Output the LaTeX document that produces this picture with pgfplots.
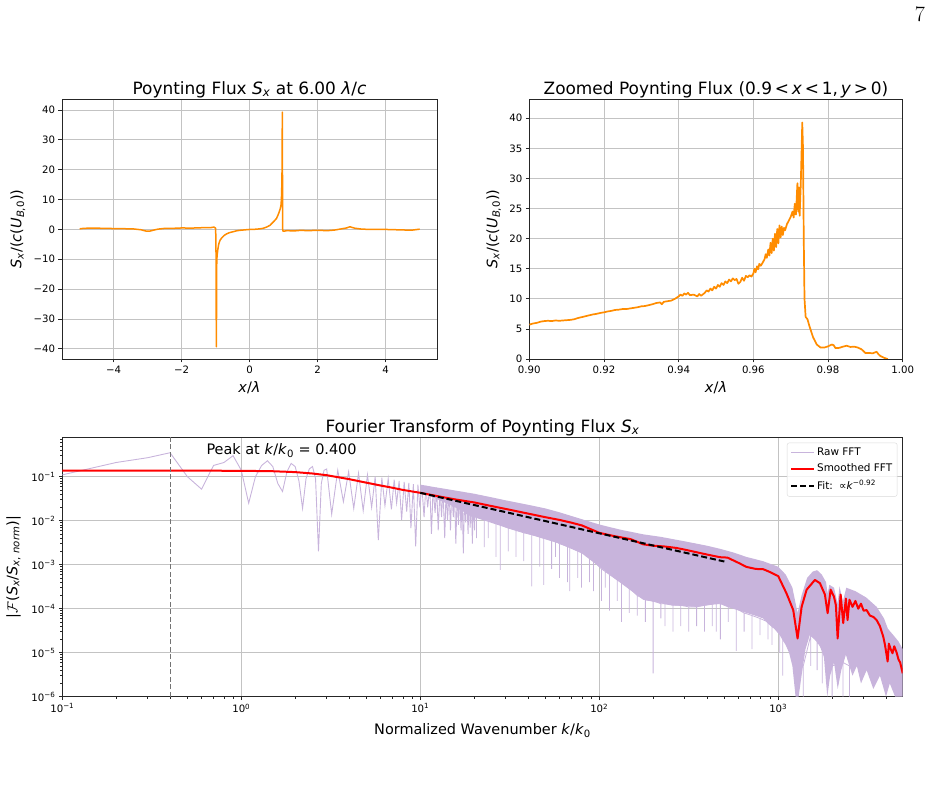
\documentclass[border=0pt]{standalone}
\usepackage{pgfplots}
\pgfplotsset{compat=1.18}
\usepackage{fontspec}
\setmainfont{DejaVu Sans}
\newfontfamily\lmr{Latin Modern Roman}
\definecolor{orangec}{RGB}{255,140,0}
\definecolor{rawc}{RGB}{200,180,220}
\definecolor{gridc}{RGB}{195,195,195}
\pgfplotsset{
 every axis/.append style={
   scale only axis,
   axis line style={black!85, line width=0.8bp},
   grid=major,
   major grid style={gridc, line width=0.8bp},
   tick align=outside,
   tick pos=left,
   major tick length=3.5bp,
   minor tick length=2bp,
   every tick/.style={black!85, line width=0.8bp},
   tick label style={font=\fontsize{10.2}{12}\selectfont},
   title style={font=\fontsize{17}{20}\selectfont, at={(axis description cs:0.5,1)}, anchor=base, yshift=-1bp},
   label style={font=\fontsize{14.5}{17}\selectfont},
   xlabel style={at={(axis description cs:0.5,0)}, anchor=base, yshift=-34bp},
 }
}
\begin{document}
\begin{tikzpicture}
\useasboundingbox (0,0) rectangle (933bp,788bp);
\node[anchor=base, font=\lmr\fontsize{22}{24}\selectfont] at (920bp,766bp) {7};

% ---------------- top left ----------------
\begin{axis}[at={(62bp,429bp)}, anchor=south west, width=375bp, height=260bp,
  xmin=-5.52, xmax=5.51, ymin=-43.4, ymax=43.7,
  xtick={-4,-2,0,2,4}, xticklabels={−4,−2,0,2,4},
  ytick={-40,-30,-20,-10,0,10,20,30,40}, yticklabels={−40,−30,−20,−10,0,10,20,30,40},
  title={Poynting Flux \textit{S}\textsubscript{\textit{x}} at 6.00 \textit{λ}/\textit{c}},
  xlabel={\textit{x}/\textit{λ}},
  ylabel={\textit{S}\textsubscript{\textit{x}}/(\textit{c}(\textit{U}\textsubscript{\textit{B},0}))},
  ylabel style={at={(axis description cs:-0.108,0.5)}, anchor=base},
]
\addplot[orangec, line width=1.5bp, line join=round] coordinates {
(-5.0,0.2) (-4.9,0.35) (-4.8,0.4) (-4.6,0.45) (-4.4,0.4) (-4.2,0.35) (-4.0,0.3) (-3.7,0.25) (-3.4,0.15) (-3.2,-0.1) (-3.05,-0.55) (-2.95,-0.6) (-2.85,-0.3) (-2.7,0.1) (-2.5,0.35) (-2.2,0.4) (-2.0,0.5) (-1.7,0.45) (-1.5,0.55) (-1.3,0.6) (-1.15,0.6) (-1.05,0.8) (-1.0,0.4) (-0.99,-8) (-0.985,-25) (-0.98,-39.3) (-0.975,-28) (-0.97,-12) (-0.96,-9) (-0.94,-7) (-0.92,-5.5) (-0.9,-4.5) (-0.87,-3.6) (-0.82,-2.8) (-0.75,-2.0) (-0.68,-1.5) (-0.6,-1.1) (-0.5,-0.8) (-0.4,-0.5) (-0.3,-0.3) (-0.15,-0.15) (0,0) (0.15,0.05) (0.3,0.2) (0.4,0.4) (0.5,0.8) (0.6,1.4) (0.65,2.0) (0.72,2.8) (0.79,3.7) (0.84,5) (0.87,5.9) (0.9,7) (0.92,8) (0.93,9.5) (0.94,12) (0.95,18) (0.955,25) (0.96,39.3) (0.965,20) (0.97,0.5) (0.975,-0.5) (1.0,-0.6) (1.1,-0.4) (1.3,-0.5) (1.5,-0.3) (1.7,-0.4) (2.0,-0.3) (2.3,-0.4) (2.5,-0.2) (2.7,0.2) (2.85,0.5) (2.95,0.9) (3.0,0.7) (3.1,0.4) (3.3,0.1) (3.6,0.0) (4.0,0.0) (4.3,-0.1) (4.6,-0.2) (4.8,-0.2) (5.0,0.1)
};
\end{axis}

% ---------------- top right ----------------
\begin{axis}[at={(529.3bp,429bp)}, anchor=south west, width=373.4bp, height=260bp,
  xmin=0.9, xmax=1.0, ymin=0, ymax=43.2,
  xtick={0.90,0.92,0.94,0.96,0.98,1.00}, xticklabels={0.90,0.92,0.94,0.96,0.98,1.00},
  ytick={0,5,10,15,20,25,30,35,40}, yticklabels={0,5,10,15,20,25,30,35,40},
  title={Zoomed Poynting Flux (0.9\,<\,\textit{x}\,<\,1,\,\textit{y}\,>\,0)},
  xlabel={\textit{x}/\textit{λ}},
  ylabel={\textit{S}\textsubscript{\textit{x}}/(\textit{c}(\textit{U}\textsubscript{\textit{B},0}))},
  ylabel style={at={(axis description cs:-0.0857,0.5)}, anchor=base},
]
\addplot[orangec, line width=1.7bp, line join=round] coordinates {
(0.9000,5.7) (0.9010,5.9) (0.9020,6.0) (0.9030,6.2) (0.9040,6.3) (0.9050,6.35) (0.9060,6.3) (0.9070,6.4) (0.9080,6.35) (0.9090,6.4) (0.9100,6.45) (0.9110,6.5) (0.9120,6.6) (0.9130,6.8) (0.9140,6.95) (0.9150,7.1) (0.9160,7.25) (0.9170,7.4) (0.9180,7.5) (0.9190,7.65) (0.9200,7.75) (0.9210,7.9) (0.9220,8.0) (0.9230,8.15) (0.9240,8.2) (0.9250,8.3) (0.9260,8.3) (0.9270,8.4) (0.9280,8.5) (0.9290,8.6) (0.9300,8.75) (0.9310,8.8) (0.9320,8.95) (0.9330,9.1) (0.9340,9.3) (0.9350,9.4) (0.9355,9.1) (0.9360,9.5) (0.9370,9.6) (0.9380,9.7) (0.9390,10.0) (0.9400,10.4) (0.9405,10.7) (0.9410,10.5) (0.9415,10.9) (0.9420,10.7) (0.9425,11.0) (0.9430,10.6) (0.9440,10.7) (0.9450,10.4) (0.9455,10.8) (0.9460,10.5) (0.9470,11.0) (0.9475,11.4) (0.9480,11.2) (0.9485,11.7) (0.9490,11.4) (0.9495,12.0) (0.9500,11.7) (0.9505,12.3) (0.9510,12.0) (0.9515,12.6) (0.9520,12.3) (0.9525,12.9) (0.9530,12.6) (0.9535,13.2) (0.9540,12.9) (0.9545,13.4) (0.9550,13.1) (0.9555,13.3) (0.9560,12.5) (0.9565,12.8) (0.9570,13.5) (0.9575,13.0) (0.9580,13.8) (0.9585,13.6) (0.9590,13.9) (0.9595,13.7) (0.9600,14.2) (0.9603,15.0) (0.9606,14.4) (0.9610,15.4) (0.9613,14.9) (0.9616,15.8) (0.9620,15.5) (0.9625,16.0) (0.9630,16.6) (0.9633,17.4) (0.9636,16.8) (0.9640,18.2) (0.9643,17.2) (0.9646,19.3) (0.9649,17.6) (0.9652,20.0) (0.9655,18.0) (0.9658,20.8) (0.9661,18.6) (0.9664,21.6) (0.9667,19.2) (0.9670,22.2) (0.9673,20.2) (0.9676,22.0) (0.9679,20.6) (0.9682,21.8) (0.9685,21.4) (0.9690,22.4) (0.9695,23.0) (0.9700,23.6) (0.9705,24.5) (0.9708,23.5) (0.9711,25.8) (0.9714,24.0) (0.9716,26.5) (0.9718,29.2) (0.9720,24.5) (0.9722,28.5) (0.9724,23.8) (0.9727,29.0) (0.9729,34.0) (0.9731,39.3) (0.9733,35.0) (0.9735,20.0) (0.9737,10.0) (0.9740,7.0) (0.9745,6.6) (0.9750,5.5) (0.9760,3.6) (0.9770,2.4) (0.9780,1.9) (0.9790,1.9) (0.9800,2.1) (0.9810,2.4) (0.9815,2.3) (0.9820,1.8) (0.9830,1.85) (0.9840,2.05) (0.9850,2.2) (0.9860,2.0) (0.9870,2.05) (0.9880,1.9) (0.9890,1.6) (0.9900,1.0) (0.9910,1.0) (0.9920,0.95) (0.9930,1.2) (0.9935,0.8) (0.9940,0.5) (0.9950,0.2) (0.9960,0.0)
};
\end{axis}

% ---------------- bottom ----------------
\begin{axis}[at={(62.3bp,91.3bp)}, anchor=south west, width=840.4bp, height=259.4bp,
  xmode=log, ymode=log,
  xmin=0.1, xmax=4960, ymin=1e-6, ymax=0.785,
  xtick={0.1,1,10,100,1000},
  xticklabels={10\textsuperscript{−1},10\textsuperscript{0},10\textsuperscript{1},10\textsuperscript{2},10\textsuperscript{3}},
  minor xtick={0.2,0.3,0.4,0.5,0.6,0.7,0.8,0.9,2,3,4,5,6,7,8,9,20,30,40,50,60,70,80,90,200,300,400,500,600,700,800,900,2000,3000,4000},
  ytick={1e-6,1e-5,1e-4,1e-3,1e-2,1e-1},
  yticklabels={10\textsuperscript{−6},10\textsuperscript{−5},10\textsuperscript{−4},10\textsuperscript{−3},10\textsuperscript{−2},10\textsuperscript{−1}},
  minor ytick={2e-6,3e-6,4e-6,5e-6,6e-6,7e-6,8e-6,9e-6,2e-5,3e-5,4e-5,5e-5,6e-5,7e-5,8e-5,9e-5,2e-4,3e-4,4e-4,5e-4,6e-4,7e-4,8e-4,9e-4,2e-3,3e-3,4e-3,5e-3,6e-3,7e-3,8e-3,9e-3,2e-2,3e-2,4e-2,5e-2,6e-2,7e-2,8e-2,9e-2,0.2,0.3,0.4,0.5,0.6,0.7},
  title={Fourier Transform of Poynting Flux \textit{S}\textsubscript{\textit{x}}},
  xlabel={Normalized Wavenumber \textit{k}/\textit{k}\textsubscript{0}},
  xlabel style={yshift=-4bp},
  ylabel={|\ensuremath{\mathcal{F}}(\textit{S}\textsubscript{\textit{x}}/\textit{S}\textsubscript{\textit{x}, \textit{norm}})|},
  ylabel style={at={(axis description cs:-0.0535,0.5)}, anchor=base},
  legend style={at={(axis description cs:0.9936,0.979)}, anchor=north east, draw=black!15, rounded corners=2bp, fill=white, fill opacity=0.8, text opacity=1, font=\fontsize{10.5}{12.5}\selectfont, cells={anchor=west}, row sep=3bp, inner sep=3bp},
  legend image code/.code={\draw[#1] (0bp,0bp) -- (23bp,0bp);},
]
\addlegendimage{rawc, line width=1bp}
\addlegendentry{Raw FFT}
% raw FFT: dense band
\addplot[draw=none, fill=rawc, forget plot] coordinates {
(10,0.066) (12,0.058) (15,0.05) (20,0.041) (25,0.034) (30,0.029) (40,0.023) (50,0.019) (60,0.0155) (80,0.0108) (100,0.0082) (130,0.0063) (176,0.0049) (220,0.0043) (300,0.0034) (400,0.0027) (472,0.0023) (560,0.0019) (665,0.0015) (824,0.0012) (900,0.00105) (1000,0.0009) (1100,0.0006) (1200,0.0003) (1283,0.00008) (1350,0.0002) (1450,0.0005) (1560,0.0007) (1650,0.00075) (1750,0.0006) (1850,0.0004) (1888,0.00022) (1930,0.00035) (2050,0.0003) (2148,0.00013) (2200,0.00032) (2300,0.00015) (2400,0.0003) (2700,0.00025) (3100,0.00018) (3550,0.00011) (3900,0.00006) (4100,0.000035) (4400,0.000025) (4700,0.000018) (4960,0.000012)
(4960,1e-6) (4500,1e-6) (4200,2e-6) (4000,1e-6) (3700,3e-6) (3400,1.5e-6) (3118,4e-6) (2900,2e-6) (2750,5e-6) (2600,3e-6) (2388,9e-6) (2250,4e-6) (2150,1.5e-6) (2050,6e-6) (1950,3e-6) (1880,1e-6) (1800,8e-6) (1700,1.5e-5) (1600,2e-5) (1500,2.5e-5) (1420,1.2e-5) (1350,3e-6) (1300,1e-6) (1250,1e-6) (1200,5e-6) (1150,1e-5) (1100,1.5e-5) (1020,2.5e-5) (950,3.5e-5) (880,4.5e-5) (824,6e-5) (740,7e-5) (665,8e-5) (560,1e-4) (472,1.3e-4) (350,1.1e-4) (250,1.2e-4) (176,1.6e-4) (130,4e-4) (100,9e-4) (80,1.8e-3) (60,3e-3) (40,5e-3) (30,7e-3) (20,0.012) (15,0.022) (10,0.045)
};
% raw FFT: resolved oscillations
\addplot[rawc, line width=0.9bp, forget plot] coordinates {
(0.1,0.11) (0.2,0.21) (0.3,0.27) (0.4,0.35) (0.5,0.10) (0.6,0.052) (0.7,0.18) (0.8,0.21) (0.9,0.30) (1.0,0.14) (1.1,0.025) (1.2,0.10) (1.3,0.18) (1.4,0.23) (1.5,0.17) (1.6,0.07) (1.7,0.046) (1.8,0.13) (1.9,0.20) (2.0,0.17) (2.1,0.08) (2.2,0.019) (2.3,0.09) (2.4,0.15) (2.5,0.17) (2.6,0.09) (2.7,0.002) (2.8,0.07) (2.9,0.14) (3.0,0.15) (3.2,0.014) (3.46,0.14) (3.72,0.027) (3.98,0.13) (4.25,0.019) (4.52,0.12) (4.8,0.017) (5.07,0.11) (5.35,0.02) (5.6,0.10) (5.83,0.0036) (6.1,0.095) (6.35,0.022) (6.62,0.09) (6.9,0.018) (7.15,0.085) (7.38,0.025) (7.62,0.08) (7.87,0.0104) (8.13,0.076) (8.4,0.016) (8.63,0.072) (8.87,0.0068) (9.15,0.068) (9.43,0.0026) (9.7,0.066) (9.95,0.02) (10.2,0.064) (10.5,0.012) (10.75,0.062) (11.0,0.02) (11.3,0.06) (11.55,0.005) (11.8,0.058) (12.1,0.015) (12.35,0.056) (12.6,0.006) (12.9,0.054) (13.15,0.012) (13.4,0.052) (13.7,0.004) (13.95,0.051) (14.2,0.01) (14.5,0.049) (14.75,0.006) (15.0,0.048) (15.3,0.012) (15.55,0.047) (15.8,0.003) (16.1,0.045) (16.35,0.008) (16.6,0.044) (16.9,0.006) (17.15,0.043) (17.4,0.0018) (17.7,0.042) (17.95,0.009) (18.2,0.041) (18.5,0.005) (18.75,0.04) (19.0,0.007) (19.3,0.039) (19.55,0.003) (19.8,0.038) (20.1,0.006) (20.35,0.037)
};
% raw FFT: deep spikes below the band
\addplot[rawc, line width=0.8bp, forget plot] coordinates {
(20.6,0.012) (20.6,0.004) (20.6,0.012) (22.8,0.011) (22.8,0.0025) (22.8,0.011) (24.0,0.0105) (24.0,0.004) (24.0,0.0105) (26.5,0.009) (26.5,0.0015) (26.5,0.009) (28.0,0.008) (28.0,0.00076) (28.0,0.008) (31.0,0.0068) (31.0,0.002) (31.0,0.0068) (34.3,0.006) (34.3,0.0015) (34.3,0.006) (37.9,0.0053) (37.9,0.0012) (37.9,0.0053) (42.0,0.0048) (42.0,0.00032) (42.0,0.0048) (46.5,0.0043) (46.5,0.0009) (46.5,0.0043) (49.0,0.004) (49.0,0.00035) (49.0,0.004) (54.2,0.0036) (54.2,0.0008) (54.2,0.0036) (57.0,0.0034) (57.0,0.0015) (57.0,0.0034) (60.0,0.003) (60.0,0.0005) (60.0,0.003) (66.4,0.0026) (66.4,0.0004) (66.4,0.0026) (68.5,0.0025) (68.5,0.00025) (68.5,0.0025) (75.8,0.0021) (75.8,0.0005) (75.8,0.0021) (79.7,0.0019) (79.7,0.0003) (79.7,0.0019) (88.3,0.0015) (88.3,0.0004) (88.3,0.0015) (92.9,0.0012) (92.9,0.00025) (92.9,0.0012) (103,0.0008) (103,0.00015) (103,0.0008) (108,0.0007) (108,0.0003) (108,0.0007) (114,0.0006) (114,0.00009) (114,0.0006) (126,0.00045) (126,0.00015) (126,0.00045) (133,0.0004) (133,0.00005) (133,0.0004) (147,0.0003) (147,0.00008) (147,0.0003) (163,0.0002) (163,0.00007) (163,0.0002) (181,0.00016) (181,0.00005) (181,0.00016) (200,0.00015) (200,0.0000034) (200,0.00015) (221,0.00013) (221,0.00006) (221,0.00013) (233,0.00013) (233,0.00004) (233,0.00013) (258,0.00012) (258,0.00003) (258,0.00012) (285,0.00012) (285,0.00004) (285,0.00012) (316,0.00011) (316,0.00003) (316,0.00011) (350,0.00011) (350,0.00004) (350,0.00011) (387,0.00012) (387,0.00003) (387,0.00012) (428,0.00013) (428,0.00004) (428,0.00013) (451,0.00013) (451,0.00003) (451,0.00013) (475,0.00013) (475,0.00002) (475,0.00013) (526,0.00011) (526,0.00005) (526,0.00011) (582,0.0001) (582,0.000011) (582,0.0001) (645,0.00008) (645,0.00003) (645,0.00008) (714,0.00007) (714,0.000012) (714,0.00007) (791,0.00006) (791,0.000025) (791,0.00006) (876,0.00005) (876,0.00002) (876,0.00005) (922,0.00004) (922,0.000015) (922,0.00004) (1020,0.00003) (1020,0.00001) (1020,0.00003) (1060,0.00002) (1060,0.000003) (1060,0.00002) (1380,0.000005) (1380,0.000001) (1380,0.000005) (1520,0.000025) (1520,0.000005) (1520,0.000025) (1650,0.000018) (1650,0.000004) (1650,0.000018) (1760,0.000012) (1760,0.000002) (1760,0.000012) (2000,0.000005) (2000,0.000001) (2000,0.000005) (2300,0.000006) (2300,0.000001) (2300,0.000006) (2500,0.000005) (2500,0.000001) (2500,0.000005)
};
% smoothed FFT
\addplot[red, line width=2bp, line join=round] coordinates {
(0.1,0.137) (0.5,0.137) (1.0,0.136) (1.5,0.133) (2.0,0.127) (2.5,0.118) (3.0,0.108) (4.0,0.088) (5.0,0.073) (6.0,0.063) (7.0,0.056) (8.0,0.050) (10,0.043) (13,0.035) (16,0.030) (20,0.026) (25,0.0215) (30,0.0185) (40,0.0145) (50,0.0120) (60,0.0104) (70,0.0090) (80,0.0078) (100,0.0053) (120,0.0045) (150,0.0038) (176,0.0029) (200,0.0027) (230,0.0026) (270,0.0024) (300,0.0022) (400,0.0017) (472,0.00148) (520,0.00145) (600,0.0011) (665,0.00089) (750,0.00080) (824,0.00079) (900,0.00068) (1000,0.00055) (1114,0.00022) (1213,0.000093) (1283,0.000021) (1351,0.00011) (1441,0.00027) (1603,0.00045) (1710,0.00038) (1823,0.00021) (1888,0.000079) (1963,0.00027) (2047,0.00019) (2100,0.00012) (2148,0.000021) (2232,0.00021) (2307,0.000047) (2388,0.00017) (2440,0.000055) (2500,0.00016) (2600,0.00011) (2700,0.00015) (2800,0.0001) (2900,0.00013) (3000,0.00009) (3118,0.000093) (3250,0.00007) (3400,0.000065) (3548,0.000055) (3700,0.00004) (3864,0.000023) (3950,0.000015) (4087,0.0000063) (4150,0.000016) (4250,0.000012) (4350,0.0000097) (4450,0.000014) (4590,0.00001) (4700,0.000007) (4800,0.000006) (4960,0.0000034)
};
\addlegendentry{Smoothed FFT}
% power-law fit
\addplot[black, line width=2bp, dash pattern=on 6bp off 3bp] coordinates {
(10,0.0430) (20,0.0227) (50,0.00980) (100,0.00517) (200,0.00273) (500,0.00118)
};
\addlegendentry{Fit: \,∝\textit{k}\textsuperscript{−0.92}}
% peak marker
\addplot[black!55, line width=1bp, dash pattern=on 5bp off 2.5bp, forget plot] coordinates {(0.4,1e-6) (0.4,0.785)};
\node[anchor=base west, font=\fontsize{14.5}{17}\selectfont] at (rel axis cs:0.1674,0.932) {Peak at \textit{k}/\textit{k}\textsubscript{0} = 0.400};
\end{axis}
\end{tikzpicture}
\end{document}
